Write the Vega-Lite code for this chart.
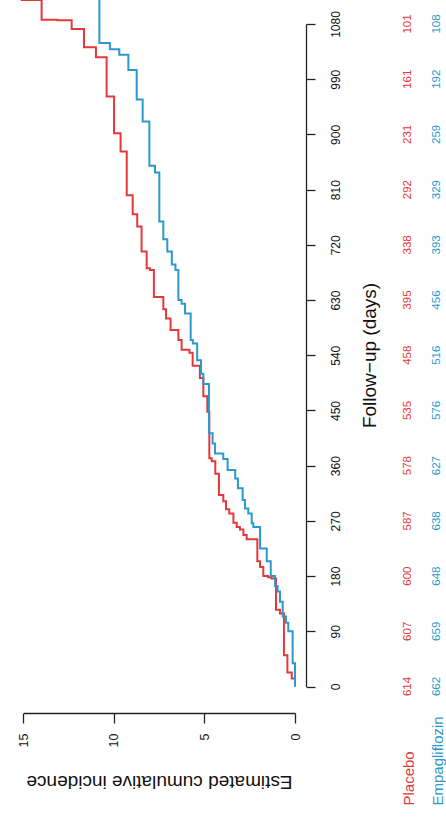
{
  "$schema": "https://vega.github.io/schema/vega-lite/v6.json",
  "autosize": "none",
  "width": 306,
  "height": 713,
  "padding": {"left": 0, "top": 0, "right": 140, "bottom": 109},
  "background": "white",
  "config": {
    "view": {"stroke": null},
    "font": "Liberation Sans",
    "axis": {"grid": false, "domainColor": "#222", "tickColor": "#222", "labelColor": "#111", "titleColor": "#111", "domainWidth": 1.3, "tickWidth": 1.3, "labelFont": "Liberation Sans", "titleFont": "Liberation Sans", "titleFontWeight": "normal", "labelOverlap": false, "labelFlush": false}
  },
  "datasets": {
    "curves": [
      {"g": "Placebo", "day": 0, "inc": 0}, {"g": "Placebo", "day": 13, "inc": 0.18}, {"g": "Placebo", "day": 23, "inc": 0.42}, {"g": "Placebo", "day": 51, "inc": 0.61}, {"g": "Placebo", "day": 119, "inc": 0.83}, {"g": "Placebo", "day": 125, "inc": 1.05}, {"g": "Placebo", "day": 176, "inc": 1.30}, {"g": "Placebo", "day": 178, "inc": 1.49}, {"g": "Placebo", "day": 180, "inc": 1.75}, {"g": "Placebo", "day": 195, "inc": 1.93}, {"g": "Placebo", "day": 204, "inc": 2.08}, {"g": "Placebo", "day": 240, "inc": 2.67}, {"g": "Placebo", "day": 247, "inc": 2.85}, {"g": "Placebo", "day": 256, "inc": 3.04}, {"g": "Placebo", "day": 260, "inc": 3.22}, {"g": "Placebo", "day": 267, "inc": 3.40}, {"g": "Placebo", "day": 282, "inc": 3.63}, {"g": "Placebo", "day": 289, "inc": 3.81}, {"g": "Placebo", "day": 302, "inc": 3.96}, {"g": "Placebo", "day": 312, "inc": 4.20}, {"g": "Placebo", "day": 347, "inc": 4.40}, {"g": "Placebo", "day": 367, "inc": 4.60}, {"g": "Placebo", "day": 372, "inc": 4.73}, {"g": "Placebo", "day": 448, "inc": 4.84}, {"g": "Placebo", "day": 473, "inc": 5.06}, {"g": "Placebo", "day": 503, "inc": 5.25}, {"g": "Placebo", "day": 523, "inc": 5.65}, {"g": "Placebo", "day": 544, "inc": 5.83}, {"g": "Placebo", "day": 549, "inc": 6.26}, {"g": "Placebo", "day": 565, "inc": 6.44}, {"g": "Placebo", "day": 581, "inc": 6.87}, {"g": "Placebo", "day": 600, "inc": 7.12}, {"g": "Placebo", "day": 615, "inc": 7.27}, {"g": "Placebo", "day": 635, "inc": 7.79}, {"g": "Placebo", "day": 679, "inc": 8.01}, {"g": "Placebo", "day": 682, "inc": 8.19}, {"g": "Placebo", "day": 709, "inc": 8.47}, {"g": "Placebo", "day": 750, "inc": 8.71}, {"g": "Placebo", "day": 770, "inc": 8.96}, {"g": "Placebo", "day": 801, "inc": 9.29}, {"g": "Placebo", "day": 872, "inc": 9.63}, {"g": "Placebo", "day": 902, "inc": 9.99}, {"g": "Placebo", "day": 962, "inc": 10.40}, {"g": "Placebo", "day": 1026, "inc": 10.99}, {"g": "Placebo", "day": 1042, "inc": 11.65}, {"g": "Placebo", "day": 1072, "inc": 12.33}, {"g": "Placebo", "day": 1086, "inc": 13.12}, {"g": "Placebo", "day": 1087, "inc": 13.99}, {"g": "Placebo", "day": 1119, "inc": 15.09}, {"g": "Placebo", "day": 1140, "inc": 15.09},
      {"g": "Empagliflozin", "day": 0, "inc": 0}, {"g": "Empagliflozin", "day": 38, "inc": 0.13}, {"g": "Empagliflozin", "day": 90, "inc": 0.37}, {"g": "Empagliflozin", "day": 104, "inc": 0.50}, {"g": "Empagliflozin", "day": 114, "inc": 0.68}, {"g": "Empagliflozin", "day": 138, "inc": 0.83}, {"g": "Empagliflozin", "day": 155, "inc": 0.96}, {"g": "Empagliflozin", "day": 164, "inc": 1.10}, {"g": "Empagliflozin", "day": 180, "inc": 1.34}, {"g": "Empagliflozin", "day": 204, "inc": 1.56}, {"g": "Empagliflozin", "day": 225, "inc": 1.93}, {"g": "Empagliflozin", "day": 260, "inc": 2.30}, {"g": "Empagliflozin", "day": 266, "inc": 2.39}, {"g": "Empagliflozin", "day": 282, "inc": 2.58}, {"g": "Empagliflozin", "day": 290, "inc": 2.76}, {"g": "Empagliflozin", "day": 304, "inc": 2.89}, {"g": "Empagliflozin", "day": 323, "inc": 3.15}, {"g": "Empagliflozin", "day": 339, "inc": 3.30}, {"g": "Empagliflozin", "day": 353, "inc": 3.72}, {"g": "Empagliflozin", "day": 371, "inc": 3.96}, {"g": "Empagliflozin", "day": 380, "inc": 4.42}, {"g": "Empagliflozin", "day": 396, "inc": 4.55}, {"g": "Empagliflozin", "day": 413, "inc": 4.75}, {"g": "Empagliflozin", "day": 493, "inc": 5.06}, {"g": "Empagliflozin", "day": 510, "inc": 5.19}, {"g": "Empagliflozin", "day": 532, "inc": 5.40}, {"g": "Empagliflozin", "day": 559, "inc": 5.64}, {"g": "Empagliflozin", "day": 565, "inc": 5.76}, {"g": "Empagliflozin", "day": 608, "inc": 6.07}, {"g": "Empagliflozin", "day": 624, "inc": 6.26}, {"g": "Empagliflozin", "day": 630, "inc": 6.44}, {"g": "Empagliflozin", "day": 679, "inc": 6.60}, {"g": "Empagliflozin", "day": 688, "inc": 6.80}, {"g": "Empagliflozin", "day": 709, "inc": 7.05}, {"g": "Empagliflozin", "day": 729, "inc": 7.27}, {"g": "Empagliflozin", "day": 758, "inc": 7.49}, {"g": "Empagliflozin", "day": 838, "inc": 7.73}, {"g": "Empagliflozin", "day": 849, "inc": 8.04}, {"g": "Empagliflozin", "day": 921, "inc": 8.41}, {"g": "Empagliflozin", "day": 957, "inc": 8.74}, {"g": "Empagliflozin", "day": 1005, "inc": 9.20}, {"g": "Empagliflozin", "day": 1030, "inc": 9.70}, {"g": "Empagliflozin", "day": 1039, "inc": 10.22}, {"g": "Empagliflozin", "day": 1049, "inc": 10.80}, {"g": "Empagliflozin", "day": 1140, "inc": 10.80}
    ],
    "atrisk": [
      {"g": "Placebo", "day": 0, "n": 614}, {"g": "Placebo", "day": 90, "n": 607}, {"g": "Placebo", "day": 180, "n": 600}, {"g": "Placebo", "day": 270, "n": 587}, {"g": "Placebo", "day": 360, "n": 578}, {"g": "Placebo", "day": 450, "n": 535}, {"g": "Placebo", "day": 540, "n": 458}, {"g": "Placebo", "day": 630, "n": 395}, {"g": "Placebo", "day": 720, "n": 338}, {"g": "Placebo", "day": 810, "n": 292}, {"g": "Placebo", "day": 900, "n": 231}, {"g": "Placebo", "day": 990, "n": 161}, {"g": "Placebo", "day": 1080, "n": 101},
      {"g": "Empagliflozin", "day": 0, "n": 662}, {"g": "Empagliflozin", "day": 90, "n": 659}, {"g": "Empagliflozin", "day": 180, "n": 648}, {"g": "Empagliflozin", "day": 270, "n": 638}, {"g": "Empagliflozin", "day": 360, "n": 627}, {"g": "Empagliflozin", "day": 450, "n": 576}, {"g": "Empagliflozin", "day": 540, "n": 516}, {"g": "Empagliflozin", "day": 630, "n": 456}, {"g": "Empagliflozin", "day": 720, "n": 393}, {"g": "Empagliflozin", "day": 810, "n": 329}, {"g": "Empagliflozin", "day": 900, "n": 259}, {"g": "Empagliflozin", "day": 990, "n": 192}, {"g": "Empagliflozin", "day": 1080, "n": 108}
    ]
  },
  "layer": [
    {
      "data": {"name": "curves"},
      "mark": {"type": "line", "interpolate": "step-before", "strokeWidth": 2, "clip": false},
      "encoding": {
        "x": {"field": "inc", "type": "quantitative", "scale": {"domain": [0, 15], "range": [295, 23.3], "nice": false, "zero": false},
          "axis": {"orient": "bottom", "values": [0, 5, 10, 15], "format": "d", "tickSize": 10, "labelAngle": 270, "labelAlign": "right", "labelBaseline": "middle", "labelPadding": 10, "labelFontSize": 12.5,
            "title": "Estimated cumulative incidence", "titleFontSize": 19, "titleAngle": 180, "titleAlign": "center", "titleBaseline": "middle", "titleX": 159, "titleY": 68}},
        "y": {"field": "day", "type": "quantitative", "scale": {"domain": [0, 1080], "range": [686.5, 24], "nice": false, "zero": false},
          "axis": {"orient": "right", "values": [0, 90, 180, 270, 360, 450, 540, 630, 720, 810, 900, 990, 1080], "format": "d", "tickSize": 9, "labelAngle": 270, "labelAlign": "center", "labelBaseline": "middle", "labelPadding": 20, "labelFontSize": 12,
            "title": "Follow−up (days)", "titleFontSize": 19, "titleAngle": 270, "titleAlign": "center", "titleBaseline": "middle", "titleX": 63, "titleY": 355}},
        "color": {"field": "g", "type": "nominal", "scale": {"domain": ["Placebo", "Empagliflozin"], "range": ["#E5383B", "#2B99CB"]}, "legend": null},
        "order": {"field": "day", "type": "quantitative"}
      }
    },
    {
      "data": {"name": "atrisk"},
      "mark": {"type": "text", "angle": 270, "fontSize": 11.5, "align": "center", "baseline": "middle", "font": "Liberation Sans"},
      "encoding": {
        "x": {"field": "g", "type": "nominal", "sort": ["Placebo", "Empagliflozin"], "scale": {"type": "point", "domain": ["Placebo", "Empagliflozin"], "range": [408, 437], "padding": 0},
          "axis": {"orient": "bottom", "domain": false, "ticks": false, "tickSize": 0, "labelAngle": 270, "labelAlign": "left", "labelBaseline": "middle", "labelPadding": 92, "labelFontSize": 15, "title": null,
            "labelColor": {"condition": {"test": "datum.value === 'Placebo'", "value": "#E5383B"}, "value": "#2B99CB"}}},
        "y": {"field": "day", "type": "quantitative"},
        "text": {"field": "n", "type": "quantitative"},
        "color": {"field": "g", "type": "nominal", "legend": null}
      }
    }
  ],
  "resolve": {"scale": {"x": "independent"}, "axis": {"x": "independent"}}
}
